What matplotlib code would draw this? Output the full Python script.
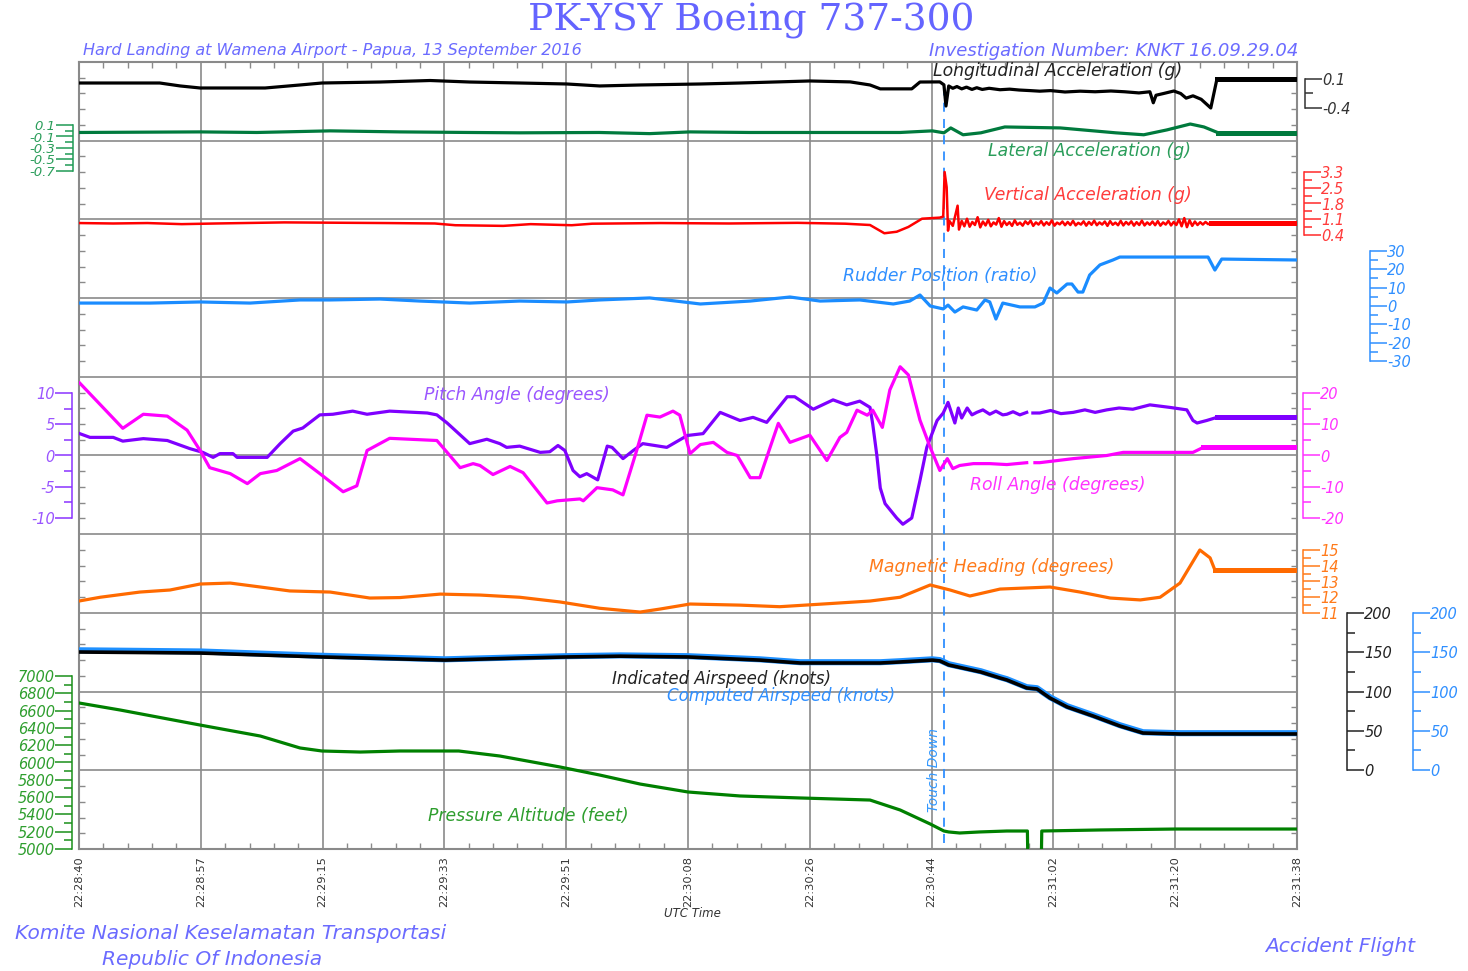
import numpy as np
import matplotlib
matplotlib.use("Agg")
import matplotlib.pyplot as plt

plt.rcParams['font.family'] = ['DejaVu Sans']
plt.rcParams['font.style'] = 'italic'
plt.rcParams['axes.unicode_minus'] = False

# ---------------- data (time in seconds after 22:28:40) ----------------
TIME_LABELS = ["22:28:40", "22:28:57", "22:29:15", "22:29:33", "22:29:51", "22:30:08",
               "22:30:26", "22:30:44", "22:31:02", "22:31:20", "22:31:38"]
TOUCHDOWN_T = 126.4

LONG_T = [0, 11.8, 14.8, 17.7, 27.2, 32.3, 35.5, 44.0, 51.3, 57.1, 64.4, 71.3, 76.1, 82.0, 90.8, 96.6,
          106.8, 112.7, 115.6, 117.1, 121.7, 122.9, 125.8, 126.4, 126.7, 127.1, 127.7, 128.3, 129.0, 129.7,
          130.5, 131.2, 132.0, 133.0, 134.6, 136.0, 137.4, 139.0, 140.4, 142.0, 144.1, 146.3, 148.5, 150.8,
          152.8, 154.9, 156.5, 157.0, 157.4, 158.5, 160.0, 161.0, 161.8, 162.8, 164.0, 165.4, 166.3, 178]
LONG_V = [0.031, 0.031, -0.02, -0.055, -0.055, -0.003, 0.031, 0.048, 0.074, 0.048, 0.031, 0.014, -0.02,
          -0.003, 0.014, 0.031, 0.066, 0.05, -0.003, -0.07, -0.07, 0.048, 0.05, 0.0, -0.366, -0.02, -0.06,
          -0.03, -0.07, -0.04, -0.08, -0.05, -0.08, -0.06, -0.085, -0.075, -0.09, -0.1, -0.11, -0.1, -0.124,
          -0.11, -0.12, -0.107, -0.12, -0.14, -0.12, -0.31, -0.18, -0.15, -0.107, -0.15, -0.23, -0.19, -0.25,
          -0.40, 0.1, 0.1]

LAT_T = [0, 17.7, 26.0, 36.7, 46.9, 57.0, 64.4, 76.0, 83.4, 89.3, 98.0, 110.0, 120.0, 124.7, 126.4,
         127.4, 129.2, 131.8, 135.3, 143.4, 151.5, 155.6, 159.0, 162.4, 164.4, 166.5, 178]
LAT_V = [-0.03, -0.02, -0.03, -0.002, -0.02, -0.03, -0.036, -0.03, -0.05, -0.02, -0.03, -0.03, -0.03,
         -0.002, -0.036, 0.049, -0.07, -0.036, 0.066, 0.049, -0.036, -0.07, 0.015, 0.117, 0.066, -0.036,
         -0.036]

VERT_T = [0, 5, 10, 15, 20, 30, 35, 45, 52, 55, 62, 66, 72, 75, 85, 95, 105, 112, 115.6, 117.7, 119.5,
          121.2, 123.2, 125.8, 126.3, 126.5, 126.8, 127.0, 127.2, 127.7, 128.4, 128.6]
VERT_V = [0.95, 0.93, 0.95, 0.9, 0.93, 0.98, 0.97, 0.95, 0.93, 0.85, 0.82, 0.9, 0.85, 0.92, 0.95, 0.93,
          0.96, 0.92, 0.86, 0.48, 0.55, 0.77, 1.15, 1.2, 1.25, 3.3, 2.6, 0.6, 1.05, 0.82, 1.75, 0.65]
# post touchdown oscillation, sampled evenly from 129.0 s to 165.4 s
VERT_OSC_START, VERT_OSC_END = 129.0, 165.4
VERT_OSC_V = [1.05, 0.8, 1.15, 0.78, 1.0, 0.86, 1.22, 0.75, 1.02, 0.84,
              1.1, 0.8, 0.98, 0.88, 1.18, 0.78, 1.04, 0.86, 0.99, 0.82,
              1.08, 0.87, 0.97, 0.83, 1.03, 0.9, 1.06, 0.82, 0.98, 0.88,
              1.04, 0.84, 0.99, 0.87, 1.07, 0.83, 0.97, 0.89, 1.02, 0.85,
              1.0, 0.86, 1.05, 0.84, 0.96, 0.88, 1.03, 0.83, 1.0, 0.87,
              1.06, 0.85, 0.98, 0.88, 1.02, 0.82, 1.04, 0.87, 0.97, 0.85,
              1.05, 0.84, 1.0, 0.88, 1.03, 0.83, 0.99, 0.86, 1.06, 0.84,
              0.98, 0.87, 1.02, 0.85, 1.04, 0.83, 0.98, 0.88, 1.05, 0.84,
              1.0, 0.86, 1.12, 0.8, 1.18, 0.76, 1.08, 0.82, 1.02, 0.86,
              0.99, 0.88, 1.0, 0.9, 0.95]
VERT_END_T = [165.5, 178]
VERT_END_V = [0.93, 0.93]

RUD_T = [0, 10.4, 17.7, 25.0, 32.3, 36.7, 44.0, 49.8, 57.1, 64.4, 71.3, 76.1, 83.4, 90.8, 98.1, 103.9,
         108.3, 114.1, 119.0, 121.4, 122.9, 124.4, 126.3, 127.0, 128.0, 129.2, 131.2, 132.4, 133.1, 134.0,
         135.0, 137.5, 139.7, 140.9, 141.9, 142.9, 144.4, 145.1, 146.0, 146.7, 147.7, 149.2, 151.1, 152.1,
         165.0, 166.0, 167.0, 178]
RUD_V = [1.6, 1.6, 2.2, 1.6, 3.3, 3.3, 3.8, 2.7, 1.6, 2.7, 2.2, 3.3, 4.4, 1.1, 2.7, 4.9, 2.7, 3.3, 1.1,
         2.7, 6.0, 0.0, -1.6, 0.5, -3.3, -0.5, -2.2, 3.3, 2.2, -7.1, 1.6, -0.5, -0.5, 1.6, 9.8, 7.1, 12.0,
         12.0, 7.6, 7.6, 16.9, 22.4, 25.1, 26.7, 26.7, 19.6, 25.6, 25.1]

PITCH_T = [0.1, 1.6, 5.0, 6.4, 9.4, 12.9, 16.2, 18.1, 19.6, 20.6, 22.5, 23.1, 27.5, 29.4, 31.3, 32.7,
           35.2, 37.1, 40.0, 42.1, 45.4, 50.9, 52.3, 53.8, 57.1, 59.6, 61.5, 62.5, 64.4, 67.4, 68.8, 70.0,
           71.0, 72.2, 73.2, 74.2, 75.8, 77.2, 77.9, 79.5, 81.0, 82.4, 85.9, 88.9, 91.2, 93.7, 96.6, 98.5,
           100.5, 103.5, 104.6, 107.3, 110.2, 112.2, 114.1, 115.6, 116.0, 116.6, 117.1, 117.8, 119.5, 120.4,
           121.7, 122.9, 123.9, 125.4, 126.3, 127.0, 128.0, 128.5, 129.0, 129.8, 130.5, 131.2, 132.1, 133.1,
           134.0, 135.0, 135.6, 136.5, 137.5, 138.5, 139.0, 139.4, 140.4, 142.0, 143.5, 145.3, 147.0, 148.5,
           150.2, 152.0, 154.0, 156.5, 159.4, 161.9, 162.8, 163.4, 164.8, 166.3, 178]
PITCH_V = [3.5, 2.9, 2.9, 2.3, 2.7, 2.4, 1.1, 0.5, -0.3, 0.3, 0.3, -0.3, -0.3, 1.9, 3.9, 4.4,
           6.5, 6.6, 7.1, 6.6, 7.1, 6.8, 6.5, 5.2, 1.9, 2.6, 1.9, 1.3, 1.5, 0.5, 0.6, 1.6,
           0.8, -2.4, -3.4, -2.9, -3.9, 1.5, 1.3, -0.5, 0.8, 1.9, 1.3, 3.2, 3.5, 6.9, 5.6, 6.1,
           5.3, 9.4, 9.4, 7.4, 8.9, 8.1, 8.7, 7.7, 5.0, 0.0, -5.2, -7.7, -10.0, -11.0,
           -10.0, -4.0, 1.3, 5.6, 6.8, 8.5, 5.2, 7.6, 6.0, 7.6, 6.5, 6.9, 7.3, 6.6,
           7.1, 6.5, 6.6, 7.0, 6.5, 6.9, np.nan, 6.8, 6.8, 7.2, 6.7, 6.9, 7.3, 6.9,
           7.3, 7.6, 7.4, 8.1, 7.7, 7.3, 5.6, 5.2, 5.6, 6.1, 6.1]

ROLL_T = [0.1, 6.4, 9.4, 12.9, 15.8, 17.7, 19.1, 22.1, 24.6, 26.5, 28.9, 32.3, 35.2, 38.6, 40.6, 42.1,
          45.4, 52.3, 53.8, 55.7, 57.6, 58.6, 60.5, 63.0, 64.9, 68.4, 69.9, 73.2, 73.7, 75.7, 78.0, 79.5,
          81.5, 83.0, 84.9, 86.8, 87.8, 89.3, 90.8, 92.7, 94.7, 96.2, 98.1, 99.5, 101.0, 102.2, 103.9,
          106.8, 109.3, 111.2, 112.2, 113.7, 115.2, 116.0, 117.4, 118.5, 120.0, 121.2, 122.9, 124.4, 125.8,
          126.9, 127.7, 128.7, 130.7, 133.1, 135.6, 138.5, 139.0, 139.7, 140.4, 145.3, 150.2, 152.6, 157.5,
          162.8, 164.3, 178]
ROLL_V = [23.2, 8.7, 13.2, 12.6, 8.1, 1.6, -3.9, -5.8, -9.0, -5.8, -4.8, -1.0, -5.8, -11.6, -9.7, 1.6,
          5.5, 4.8, 1.0, -3.9, -2.6, -3.2, -6.1, -3.5, -5.5, -15.2, -14.5, -13.9, -14.5, -10.3, -11.0, -12.6,
          1.6, 12.9, 12.3, 14.2, 12.9, 0.6, 3.5, 4.2, 1.0, 0.0, -7.1, -7.1, 2.6, 10.3, 4.2,
          6.5, -1.6, 5.8, 7.4, 14.5, 12.9, 14.5, 9.0, 21.0, 28.4, 25.8, 11.3, 2.6, -4.8,
          -1.0, -4.2, -3.2, -2.6, -2.6, -2.9, -2.3, np.nan, -2.3, -2.3, -1.0, 0.0, 1.0, 1.0,
          1.0, 2.6, 2.6]

HDG_T = [0, 3.1, 8.9, 13.3, 17.7, 22.1, 26.5, 30.8, 36.7, 42.5, 46.9, 52.8, 58.6, 64.4, 70.3, 76.1,
         82.0, 84.9, 89.3, 96.6, 102.4, 109.8, 115.6, 120.0, 124.4, 127.3, 130.2, 134.6, 141.9, 146.3,
         150.7, 155.1, 158.0, 160.9, 163.8, 165.3, 166.0, 178]
HDG_V = [11.76, 12.0, 12.33, 12.46, 12.84, 12.9, 12.65, 12.4, 12.33, 11.95, 11.98, 12.2, 12.14, 12.0,
         11.7, 11.3, 11.06, 11.25, 11.57, 11.5, 11.4, 11.6, 11.76, 12.0, 12.78, 12.46, 12.08, 12.52, 12.65,
         12.33, 11.95, 11.83, 12.0, 12.9, 15.0, 14.5, 13.73, 13.73]

IAS_T = [0, 17.7, 35.5, 53.5, 64.4, 71.3, 79.1, 89.0, 99.5, 105.4, 117.1, 120.0, 124.7, 125.8, 127.1,
         131.8, 134.6, 135.6, 138.5, 140.0, 141.9, 144.4, 148.2, 152.1, 155.5, 160.9, 178]
IAS_V = [150.3, 149.0, 144.0, 140.0, 142.7, 144.0, 145.0, 144.0, 140.0, 136.3, 136.3, 137.6, 140.0,
         139.0, 133.8, 124.8, 117.2, 114.7, 104.5, 103.2, 91.7, 80.3, 68.8, 56.1, 47.1, 45.9, 45.9]
CAS_T = IAS_T
CAS_V = [152.5, 151.0, 145.5, 141.0, 143.5, 145.0, 146.0, 145.0, 141.0, 137.3, 137.3, 138.6, 141.0,
         140.0, 134.8, 125.8, 118.2, 115.7, 105.5, 104.2, 92.7, 81.3, 69.8, 57.1, 48.1, 46.9, 46.9]

ALT_T = [0, 6.0, 17.7, 26.5, 32.3, 35.5, 41.1, 46.9, 55.5, 61.5, 70.3, 76.1, 82.0, 89.0, 96.6, 105.4,
         115.6, 120.0, 124.4, 126.4, 127.1, 128.7, 131.6, 135.6, 138.6, 138.7, 140.6, 140.7, 149.2,
         160.3, 178]
ALT_V = [6688, 6607, 6433, 6306, 6168, 6133, 6121, 6133, 6133, 6075, 5948, 5855, 5751, 5659, 5613, 5590,
         5566, 5451, 5289, 5208, 5197, 5185, 5197, 5208, 5208, 4700, 4700, 5208, 5220, 5231, 5231]

# ---------------- layout ----------------
W, H = 1468, 971
L, R, T, B = 79, 1297, 62, 849
RECT = [L / W, 1 - B / H, (R - L) / W, (B - T) / H]
TMAX = 178

fig = plt.figure(figsize=(W / 100, H / 100), dpi=100)
fig.patch.set_facecolor('white')

GRID = '#8a8a8a'
base = fig.add_axes(RECT)
base.set_xlim(0, TMAX)
base.set_ylim(0, 10)
base.set_xticks(np.linspace(0, TMAX, 11))
base.set_xticklabels(TIME_LABELS, rotation=90, fontsize=8.2, color='#333333', fontstyle='normal')
base.set_xticks(np.linspace(0, TMAX, 51), minor=True)
base.set_yticks(np.arange(0, 11))
base.set_yticklabels([])
base.set_yticks(np.linspace(0, 10, 51), minor=True)
base.tick_params(which='both', direction='in', top=True, bottom=True, left=True, right=True, color=GRID)
base.tick_params(which='major', length=0, pad=5)
base.tick_params(which='minor', length=4.5, width=1)
base.grid(True, which='major', color=GRID, linewidth=1.2)
for s in base.spines.values():
    s.set_color(GRID)
    s.set_linewidth(1.5)
base.axvline(TOUCHDOWN_T, ymin=(B - 843) / (B - T), ymax=(B - 88) / (B - T), color='#2f8fff',
             lw=1.3, ls=(0, (5, 4)), zorder=5)


def series_axis(v_a, p_a, v_b, p_b):
    fa = (B - p_a) / (B - T)
    fb = (B - p_b) / (B - T)
    k = (v_a - v_b) / (fa - fb)
    lo = v_a - k * fa
    ax = fig.add_axes(RECT)
    ax.set_xlim(0, TMAX)
    ax.set_ylim(lo, lo + k)
    ax.patch.set_visible(False)
    for s in ax.spines.values():
        s.set_visible(False)
    ax.xaxis.set_visible(False)
    ax.set_yticks([])
    return ax


def scale(ax, side, px, lo, hi, majors, labels, minors, col, lcol, lsize=10.5):
    ax.yaxis.set_ticks_position(side)
    sp = ax.spines[side]
    sp.set_visible(True)
    sp.set_position(('axes', (px - L) / (R - L)))
    sp.set_bounds(lo, hi)
    sp.set_color(col)
    sp.set_linewidth(1.1)
    ax.set_yticks(majors)
    ax.set_yticklabels(labels, fontstyle='italic')
    ax.set_yticks(minors, minor=True)
    ax.tick_params(axis='y', which='major', direction='out', length=12, width=1.1, color=col,
                   labelcolor=lcol, pad=0.5, labelsize=lsize)
    ax.tick_params(axis='y', which='minor', direction='out', length=5.5, width=1.1, color=col)


LW = 2.3
LW_END = 3.6

# Longitudinal acceleration
ax = series_axis(0.1, 79, -0.4, 108)
ax.plot(LONG_T, LONG_V, color='black', lw=LW)
ax.plot(LONG_T[-2:], LONG_V[-2:], color='black', lw=LW_END)
scale(ax, 'right', 1305, -0.4, 0.1, [0.1, -0.4], ['0.1', '-0.4'], [-0.15], '#333333', '#333333')

# Lateral acceleration
ax = series_axis(0.1, 125, -0.7, 171)
ax.plot(LAT_T, LAT_V, color='#007a3d', lw=LW)
ax.plot(LAT_T[-2:], LAT_V[-2:], color='#007a3d', lw=LW_END)
scale(ax, 'left', 73, -0.7, 0.1, [0.1, -0.1, -0.3, -0.5, -0.7],
      ['0.1', '-0.1', '-0.3', '-0.5', '-0.7'], [0.0, -0.2, -0.4, -0.6], '#1f9a55', '#2a9d5a', lsize=9.5)

# Vertical acceleration
ax = series_axis(3.3, 172, 0.4, 235)
osc_t = np.linspace(VERT_OSC_START, VERT_OSC_END, len(VERT_OSC_V))
ax.plot(list(VERT_T) + list(osc_t) + VERT_END_T, VERT_V + VERT_OSC_V + VERT_END_V,
        color='#ff0000', lw=1.8)
ax.plot(VERT_END_T, VERT_END_V, color='#ff0000', lw=LW_END)
vmaj = np.linspace(0.4, 3.3, 5)
scale(ax, 'right', 1304, 0.4, 3.3, vmaj, ['0.4', '1.1', '1.8', '2.5', '3.3'],
      (vmaj[:-1] + vmaj[1:]) / 2, '#ff2a2a', '#ff3b3b')

# Rudder position
ax = series_axis(30, 251, -30, 361)
ax.plot(RUD_T, RUD_V, color='#1a8cff', lw=LW)
scale(ax, 'right', 1370, -30, 30, np.arange(-30, 31, 10), [str(v) for v in range(-30, 31, 10)],
      np.arange(-25, 30, 10), '#2f8fff', '#2f8fff')

# Pitch angle
ax = series_axis(10, 393, -10, 518)
ax.plot(PITCH_T, PITCH_V, color='#7f00ff', lw=LW)
ax.plot(PITCH_T[-2:], PITCH_V[-2:], color='#7f00ff', lw=LW_END)
scale(ax, 'left', 72, -10, 10, [10, 5, 0, -5, -10], ['10', '5', '0', '-5', '-10'],
      [7.5, 2.5, -2.5, -7.5], '#8a33ff', '#9a55ff')

# Roll angle
ax = series_axis(20, 393, -20, 518)
ax.plot(ROLL_T, ROLL_V, color='#ff00ff', lw=LW)
ax.plot(ROLL_T[-2:], ROLL_V[-2:], color='#ff00ff', lw=LW_END)
scale(ax, 'right', 1303, -20, 20, [20, 10, 0, -10, -20], ['20', '10', '0', '-10', '-20'],
      [15, 5, -5, -15], '#ff33ff', '#ff33ff')

# Magnetic heading
ax = series_axis(15, 550, 11, 613)
ax.plot(HDG_T, HDG_V, color='#ff6a00', lw=LW)
ax.plot(HDG_T[-2:], HDG_V[-2:], color='#ff6a00', lw=LW_END)
scale(ax, 'right', 1303, 11, 15, [15, 14, 13, 12, 11], ['15', '14', '13', '12', '11'],
      [14.5, 13.5, 12.5, 11.5], '#ff7a1a', '#ff7a1a')

# Computed airspeed (blue halo) and indicated airspeed (black)
ax = series_axis(200, 613, 0, 770)
ax.plot(CAS_T, CAS_V, color='#1e90ff', lw=4.4)
scale(ax, 'right', 1413, 0, 200, [0, 50, 100, 150, 200], ['0', '50', '100', '150', '200'],
      [25, 75, 125, 175], '#2f8fff', '#2f8fff')
ax = series_axis(200, 613, 0, 770)
ax.plot(IAS_T, IAS_V, color='black', lw=2.6)
scale(ax, 'right', 1347, 0, 200, [0, 50, 100, 150, 200], ['0', '50', '100', '150', '200'],
      [25, 75, 125, 175], '#222222', '#222222')

# Pressure altitude
ax = series_axis(7000, 676, 5000, 849)
ax.plot(ALT_T, ALT_V, color='#008000', lw=LW)
alt_major = np.arange(5000, 7001, 200)
scale(ax, 'left', 72, 5000, 7000, alt_major, [str(v) for v in alt_major],
      np.arange(5100, 7000, 200), '#1a8f1a', '#2e9e2e')


# ---------------- texts ----------------
def ftext(x, y, s, **kw):
    kw.setdefault('va', 'center')
    fig.text(x / W, 1 - y / H, s, **kw)


TITLE_C = '#6464ff'
ftext(751, 21, "PK-YSY Boeing 737-300", family='DejaVu Serif', style='normal', size=27,
      color=TITLE_C, ha='center')
ftext(83, 51, "Hard Landing at Wamena Airport - Papua, 13 September 2016", size=11.5, color='#6b6bff')
ftext(1298, 51, "Investigation Number: KNKT 16.09.29.04", size=13, color='#6b6bff', ha='right')

LS = 12.4
ftext(933, 71, "Longitudinal Acceleration (g)", size=LS, color='#222222')
ftext(988, 151, "Lateral Acceleration (g)", size=LS, color='#2a9d5a')
ftext(984, 195, "Vertical Acceleration (g)", size=LS, color='#ff3b3b')
ftext(843, 276, "Rudder Position (ratio)", size=LS, color='#2f8fff')
ftext(424, 395, "Pitch Angle (degrees)", size=LS, color='#9a55ff')
ftext(970, 485, "Roll Angle (degrees)", size=LS, color='#ff33ff')
ftext(869, 567, "Magnetic Heading (degrees)", size=LS, color='#ff7a1a')
ftext(612, 679, "Indicated Airspeed (knots)", size=12, color='#222222')
ftext(667, 696, "Computed Airspeed (knots)", size=12, color='#2f8fff')
ftext(428, 816, "Pressure Altitude (feet)", size=LS, color='#2e9e2e')
ftext(934, 770, "Touch Down", size=10, color='#3399ff', rotation=90, ha='center')

ftext(692, 913, "UTC Time", size=8.5, color='#333333', ha='center')
ftext(15, 933, "Komite Nasional Keselamatan Transportasi", size=14.5, color='#6b6bff')
ftext(102, 959, "Republic Of Indonesia", size=14.5, color='#6b6bff')
ftext(1415, 946, "Accident Flight", size=14.5, color='#6b6bff', ha='right')

fig.savefig("out.png", dpi=100, facecolor='white')
